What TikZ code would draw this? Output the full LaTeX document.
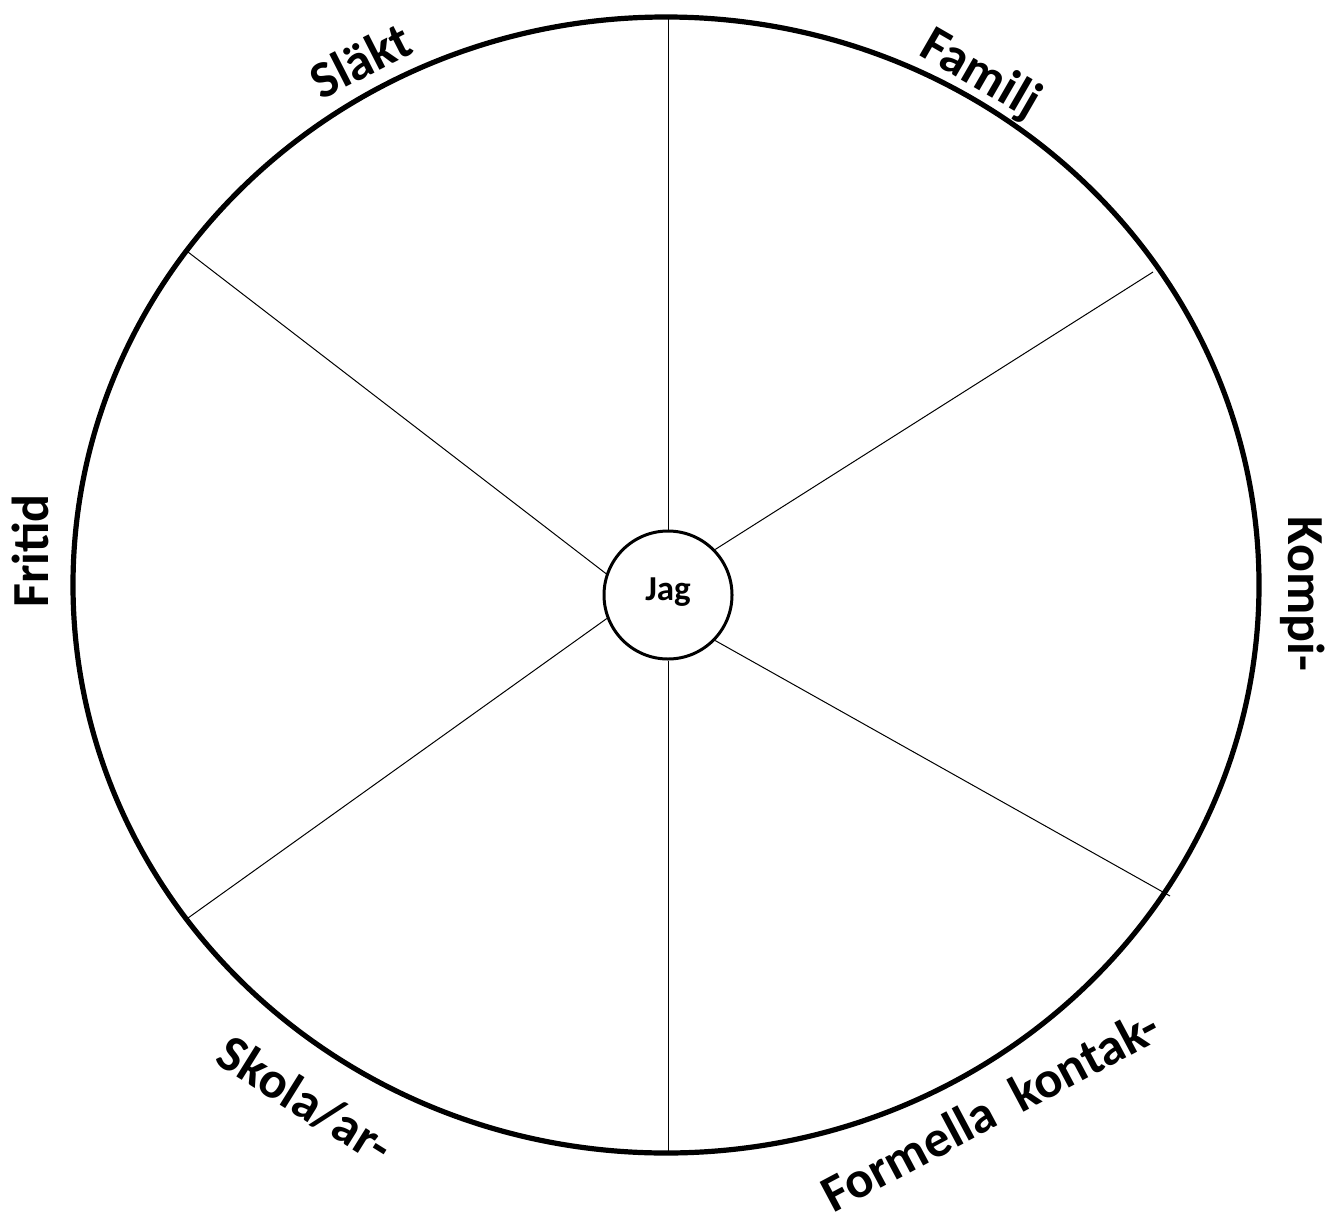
\documentclass[tikz,border=0pt]{standalone}
\usepackage{fontspec}
\setmainfont{Carlito}
\begin{document}
\begin{tikzpicture}[x=0.5pt,y=-0.5pt,
  lbl/.style={font=\bfseries\fontsize{26}{30}\selectfont, inner sep=0pt},
  spoke/.style={line width=0.5pt},
  hub/.style={circle, draw, line width=1.5pt, minimum size=64pt, inner sep=0pt, font=\bfseries\fontsize{17.5}{20}\selectfont}]
\useasboundingbox (0,0) rectangle (1326,1220);
\draw[line width=2.6pt] (666,585) ellipse [x radius=593, y radius=568];
\node[hub] (jag) at (668,595) {\raisebox{6pt}{Jag}};
\coordinate (t) at (668,17);
\coordinate (b) at (668,1153);
\coordinate (ul) at (188,252);
\coordinate (ur) at (1153,272);
\coordinate (ll) at (188,918);
\coordinate (lr) at (1170,896);
\draw[spoke] (jag.north) -- (t);
\draw[spoke] (jag.south) -- (b);
\draw[spoke] (jag.161) -- (ul);
\draw[spoke] (jag.44) -- (ur);
\draw[spoke] (jag.201) -- (ll);
\draw[spoke] (jag.-44) -- (lr);
\node[lbl, rotate=27] (slakt) at (360,60) {Släkt};
\node[lbl, rotate=-30] (familj) at (980,75) {Familj};
\node[lbl, rotate=90] (fritid) at (30,551) {Fritid};
\node[lbl, rotate=-90] (kompi) at (1303,594) {Kompi-};
\node[lbl, rotate=-32] (skola) at (305,1100) {Skola/ar-};
\node[lbl, rotate=28] (formella) at (990,1110) {Formella\ \ kontak-};
\end{tikzpicture}
\end{document}
